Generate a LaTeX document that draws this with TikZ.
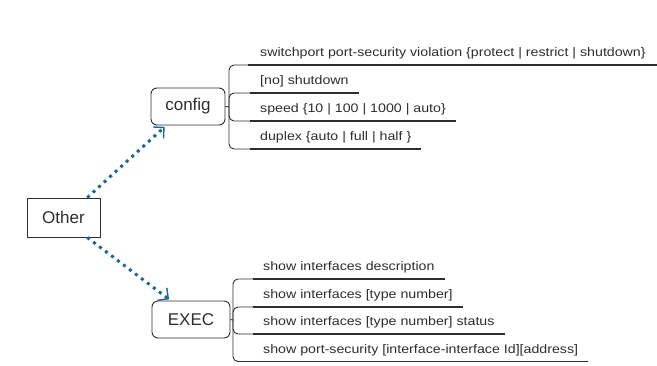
\documentclass[tikz,border=0pt]{standalone}
\usepackage{fontspec}
\setmainfont{Liberation Sans}
\newfontfamily\cmdfont{Liberation Sans}[FakeStretch=1.15]
\usetikzlibrary{arrows.meta}
\definecolor{link_blue}{RGB}{30,102,152}
\definecolor{line_gray}{RGB}{45,45,45}

\begin{document}
\begin{tikzpicture}[x=1pt, y=-1pt,
    mode/.style={draw=line_gray, line width=0.9pt, rounded corners=6pt, minimum width=74pt, minimum height=37pt, font=\fontsize{17}{20}\selectfont, text=line_gray},
    cmd/.style={anchor=south west, inner xsep=10pt, inner ysep=8pt, text depth=0pt, font=\cmdfont\fontsize{12.35}{14}\selectfont, text=line_gray},
    uline/.style={line_gray, line width=1.3pt},
    tree/.style={line_gray, line width=0.9pt, rounded corners=5pt},
    hop/.style={link_blue, line width=3pt, dash pattern=on 3pt off 4.5pt, shorten >=2pt, -{Straight Barb[angle=90:11pt, line width=1.4pt]}}
]
\useasboundingbox (0,0) rectangle (657,365);

% Nodes
\node[draw=line_gray, line width=0.9pt, minimum width=73pt, minimum height=39pt, font=\fontsize{17}{20}\selectfont, text=line_gray] (other) at (63.5,217.5) {Other};
\node[mode] (config) at (188,106.5) {config};
\node[mode, minimum width=78pt] (exec) at (191,319.5) {EXEC};

% Config commands
\node[cmd, inner xsep=12pt] (cfg1) at (248,65) {switchport port-security violation \{protect | restrict | shutdown\}};
\node[cmd] (cfg2) at (250,93) {[no] shutdown};
\node[cmd] (cfg3) at (250,121) {speed \{10 | 100 | 1000 | auto\}};
\node[cmd] (cfg4) at (250,149) {duplex \{auto | full | half \}};

% EXEC commands
\node[cmd] (ex1) at (253,279) {show interfaces description};
\node[cmd] (ex2) at (253,307) {show interfaces [type number]};
\node[cmd] (ex3) at (253,334) {show interfaces [type number] status};
\node[cmd] (ex4) at (253,361.5) {show port-security [interface-interface Id][address]};

% Underlines
\draw[uline] (cfg1.south west) -- (cfg1.south east);
\draw[uline] (cfg2.south west) -- (cfg2.south east);
\draw[uline] (cfg3.south west) -- (cfg3.south east);
\draw[uline] (cfg4.south west) -- (cfg4.south east);
\draw[uline] (ex1.south west) -- (ex1.south east);
\draw[uline] (ex2.south west) -- (ex2.south east);
\draw[uline] (ex3.south west) -- (ex3.south east);
\draw[uline] (ex4.south west) -- (ex4.south east);

% Brackets
\coordinate (cfgbus) at (229,107);
\draw[tree] (config.east) -- (cfgbus);
\draw[tree] (cfg1.south west) -| (cfgbus) |- (cfg4.south west);
\draw[tree] (cfg2.south west) -| (cfgbus) |- (cfg3.south west);
\coordinate (exbus) at (233,320);
\draw[tree] (exec.east) -- (exbus);
\draw[tree] (ex1.south west) -| (exbus) |- (ex4.south west);
\draw[tree] (ex2.south west) -| (exbus) |- (ex3.south west);

% Arrows
\draw[hop] (other.40) -- (config.-139);
\draw[hop] (other.-40) -- (exec.137);
\end{tikzpicture}
\end{document}
